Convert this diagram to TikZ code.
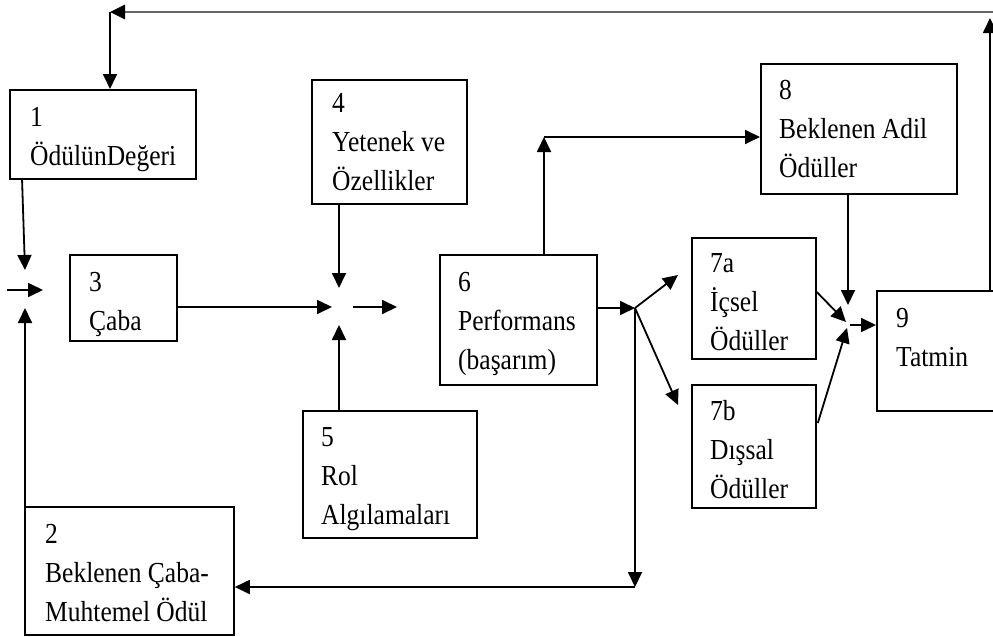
\documentclass[tikz,border=0pt]{standalone}
\usepackage{fontspec}
\setmainfont{Liberation Serif}[FakeStretch=0.88]
\usetikzlibrary{arrows.meta,calc}
\begin{document}
\begin{tikzpicture}[x=1pt,y=-1pt,
  box/.style={draw, line width=1.8pt, inner sep=0pt, anchor=north west},
  txt/.style={anchor=north west, inner sep=0pt, align=left, font=\fontsize{29}{39}\selectfont},
  arr/.style={line width=1.8pt, -{Triangle[length=15pt,width=14pt]}},
  toparr/.style={line width=2.6pt, draw=black!60, -{Triangle[length=15pt,width=14pt,color=black]}}]
\useasboundingbox (0,0) rectangle (993,637);
% boxes
\node[box, minimum width=186pt, minimum height=89pt] (b1) at (9,89) {};
\node[box, minimum width=209pt, minimum height=128pt] (b2) at (24,506) {};
\node[box, minimum width=107pt, minimum height=86pt] (b3) at (69,254) {};
\node[box, minimum width=155pt, minimum height=124pt] (b4) at (311,79) {};
\node[box, minimum width=174pt, minimum height=127pt] (b5) at (302,410) {};
\node[box, minimum width=157pt, minimum height=130pt] (b6) at (439,254) {};
\node[box, minimum width=124pt, minimum height=121pt] (b7a) at (691,237) {};
\node[box, minimum width=124pt, minimum height=123pt] (b7b) at (691,384) {};
\node[box, minimum width=196pt, minimum height=130pt] (b8) at (760,63) {};
\node[box, minimum width=140pt, minimum height=120pt] (b9) at (876,290) {};
% texts
\node[txt] (t1) at ($(b1.north west)+(21,18)$) {1\\ÖdülünDeğeri};
\node[txt] (t2) at ($(b2.north west)+(21,18)$) {2\\Beklenen Çaba-\\Muhtemel Ödül};
\node[txt] (t3) at ($(b3.north west)+(20,18)$) {3\\Çaba};
\node[txt] (t4) at ($(b4.north west)+(21,14)$) {4\\Yetenek ve\\Özellikler};
\node[txt] (t5) at ($(b5.north west)+(19,17)$) {5\\Rol\\Algılamaları};
\node[txt] (t6) at ($(b6.north west)+(19,18)$) {6\\Performans\\(başarım)};
\node[txt] (t7a) at ($(b7a.north west)+(19,16)$) {7a\\İçsel\\Ödüller};
\node[txt] (t7b) at ($(b7b.north west)+(19,16)$) {7b\\Dışsal\\Ödüller};
\node[txt] (t8) at ($(b8.north west)+(19,17)$) {8\\Beklenen Adil\\Ödüller};
\node[txt] (t9) at ($(b9.north west)+(20,18)$) {9\\Tatmin};
% junction coordinates
\coordinate (s1) at (22,178);
\coordinate (jL1) at (25,270);
\coordinate (jL0) at (7,290);
\coordinate (jL2) at (43,290);
\coordinate (jL3) at (25,308);
\coordinate (jM1) at (332,307);
\coordinate (jM2) at (339,288);
\coordinate (jM3) at (353,307);
\coordinate (jM4) at (397,307);
\coordinate (jM5) at (339,325);
\coordinate (j6) at (635,308);
\coordinate (jb) at (635,587);
\coordinate (ja) at (678,275);
\coordinate (jbb) at (678,405);
\coordinate (jt) at (544,137);
\coordinate (k8) at (848,305);
\coordinate (k7a) at (846,322);
\coordinate (k7b) at (847,328);
\coordinate (k9) at (850,325);
\coordinate (rt) at (990,18);
\coordinate (tr) at (998,12);
\coordinate (tl) at (110,12);
% left junction
\draw[arr] (s1) -- (jL1);
\draw[arr] (jL0) -- (jL2);
\draw[arr] (b2.north west -| jL3) -- (jL3);
% middle junction
\draw[arr] (b3.east |- jM1) -- (jM1);
\draw[arr] (b4.south -| jM2) -- (jM2);
\draw[arr] (jM3) -- (jM4);
\draw[arr] (b5.north -| jM5) -- (jM5);
% performance outputs
\draw[arr] (b6.east |- j6) -- (j6);
\draw[arr] (j6) -- (ja);
\draw[arr] (j6) -- (jbb);
\draw[arr] (j6) -- (jb);
\draw[arr] (jb) -- (jb -| b2.east);
\draw[arr] (b6.north -| jt) -- (jt);
\draw[arr] (jt) -- (jt -| b8.west);
% satisfaction
\draw[arr] (b8.south -| k8) -- (k8);
\draw[arr] ($(b7a.north east)+(0,55)$) -- (k7a);
\draw[arr] ($(b7b.north east)+(1,39)$) -- (k7b);
\draw[arr] (k9) -- (k9 -| b9.west);
% feedback loop
\draw[arr] (b9.north -| rt) -- (rt);
\draw[toparr] (tr) -- (tl);
\draw[arr] (tl) -- (tl |- b1.north);
\end{tikzpicture}
\end{document}
